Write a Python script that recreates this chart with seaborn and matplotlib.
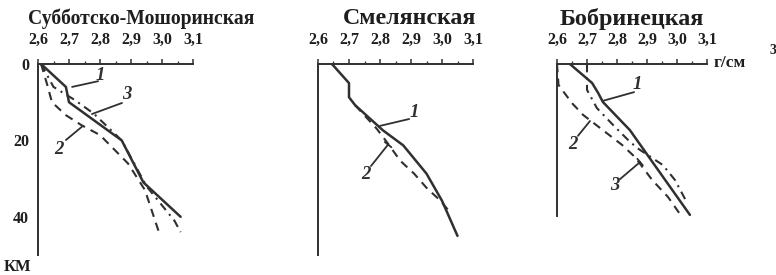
import matplotlib
matplotlib.use("Agg")
import matplotlib.pyplot as plt
import seaborn as sns
import pandas as pd

# ---------------- data ----------------
titles = ["Субботско-Мошоринская", "Смелянская", "Бобринецкая"]
density_ticks = [2.6, 2.7, 2.8, 2.9, 3.0, 3.1]
density_labels = ["2,6", "2,7", "2,8", "2,9", "3,0", "3,1"]
depth_labels_p1 = ["0", "", "20", "", "40", ""]

# panel 1 (Субботско-Мошоринская)
p1_c1_rho = [2.61, 2.69, 2.70, 2.87, 2.94, 3.06]
p1_c1_z = [0, 6, 10, 20, 31, 40]
p1_c2_rho = [2.61, 2.63, 2.645, 2.69, 2.74, 2.80, 2.89, 2.945, 2.99]
p1_c2_z = [0, 5.5, 10, 13.4, 16, 18.6, 26, 33, 44]
p1_c3_rho = [2.61, 2.65, 2.72, 2.78, 2.87, 2.95, 3.0, 3.04, 3.06]
p1_c3_z = [0, 6, 9.5, 13, 20, 32, 37, 41, 44]

# panel 2 (Смелянская)
p2_c1_rho = [2.645, 2.70, 2.70, 2.72, 2.81, 2.875, 2.95, 3.0, 3.05]
p2_c1_z = [0, 5, 8.7, 10.8, 17.4, 21.3, 28.7, 35.8, 45]
p2_c2_rho = [2.72, 2.79, 2.83, 2.865, 2.91, 2.95, 2.995, 3.03]
p2_c2_z = [10.8, 17, 21.3, 25.3, 28.7, 32.4, 35.8, 39.2]

# panel 3 (Бобринецкая)
p3_c1_rho = [2.643, 2.717, 2.737, 2.753, 2.843, 2.92, 3.043]
p3_c1_z = [0, 5, 7.6, 10, 17.4, 26, 39.7]
p3_c2_rho = [2.60, 2.605, 2.65, 2.687, 2.817, 2.86, 2.917, 2.97, 3.017]
p3_c2_z = [0, 5.5, 10.3, 13.4, 21.3, 24.5, 30.5, 35, 40.3]
p3_c3_rho = [2.70, 2.70, 2.733, 2.79, 2.837, 2.867, 2.953, 2.993, 3.03]
p3_c3_z = [0, 6.8, 11.6, 16.3, 20, 22.1, 26.6, 30.5, 36]

# ---------------- style ----------------
sns.set_theme(style="white")
plt.rcParams["font.family"] = ["Liberation Serif", "DejaVu Serif"]
INK = "#303030"
TXT = "#1e1e1e"

W, H = 776, 275
fig = plt.figure(figsize=(W / 100, H / 100), dpi=100)
fig.patch.set_facecolor("white")


def px_axes(l, r, t, b):
    return fig.add_axes([l / W, 1 - b / H, (r - l) / W, (b - t) / H])


def make_df(rho, z, name):
    return pd.DataFrame({"rho": rho, "z": z, "curve": name})


styles = {
    "1": dict(ls="-", lw=1.8),
    "2": dict(ls=(0, (4, 3)), lw=1.5),
    "3": dict(ls=(0, (4, 2.5, 1, 2.5)), lw=1.5),
}

panels = [
    dict(box=(38, 193, 64, 255), zmax=50,
         curves=[("2", p1_c2_rho, p1_c2_z), ("3", p1_c3_rho, p1_c3_z), ("1", p1_c1_rho, p1_c1_z)],
         yticks=[0, 10, 20, 30, 40, 50], ylabels=depth_labels_p1,
         labels=[("1", (2.80, 3.1), (2.794, 4.5), (2.71, 6.0), False),
                 ("3", (2.887, 8.1), (2.871, 10.2), (2.774, 13.1), False),
                 ("2", (2.668, 22.3), (2.69, 19.9), (2.745, 16.2), False)]),
    dict(box=(318, 473, 64, 255), zmax=50,
         curves=[("2", p2_c2_rho, p2_c2_z), ("1", p2_c1_rho, p2_c1_z)],
         yticks=[0, 10, 20, 30, 40, 50], ylabels=[""] * 6,
         labels=[("1", (2.91, 12.6), (2.894, 14.4), (2.80, 16.2), False),
                 ("2", (2.755, 28.8), (2.771, 26.7), (2.826, 21.1), True)]),
    dict(box=(557, 707, 64, 216), zmax=40,
         curves=[("2", p3_c2_rho, p3_c2_z), ("3", p3_c3_rho, p3_c3_z), ("1", p3_c1_rho, p3_c1_z)],
         yticks=[0, 10, 20, 30, 40], ylabels=[""] * 5,
         labels=[("1", (2.867, 5.5), (2.857, 7.4), (2.753, 9.7), False),
                 ("2", (2.653, 21.3), (2.67, 18.9), (2.71, 15.0), False),
                 ("3", (2.793, 32.1), (2.81, 30.3), (2.877, 25.8), True)]),
]

for p in panels:
    ax = px_axes(*p["box"])
    for name, rho, z in p["curves"]:
        df = make_df(rho, z, name)
        sns.lineplot(data=df, x="rho", y="z", ax=ax, color=INK, sort=False,
                     estimator=None, legend=False, **styles[name])
    ax.set_xlim(2.6, 3.1)
    ax.set_ylim(p["zmax"], 0)
    ax.set_xlabel("")
    ax.set_ylabel("")
    for s in ["bottom", "right"]:
        ax.spines[s].set_visible(False)
    for s in ["top", "left"]:
        ax.spines[s].set_color(INK)
        ax.spines[s].set_linewidth(1.4)
    ax.xaxis.tick_top()
    ax.set_xticks(density_ticks)
    ax.set_xticklabels(density_labels)
    ax.set_xticks([2.65, 2.75, 2.85, 2.95, 3.05], minor=True)
    ax.set_yticks(p["yticks"])
    ax.set_yticklabels(p["ylabels"])
    ax.tick_params(axis="x", which="major", direction="out", length=3.5, width=1.1,
                   color=INK, pad=8, labelsize=11.5, labelcolor=TXT)
    ax.tick_params(axis="x", which="minor", direction="out", length=2.5, width=1.0, color=INK)
    ax.tick_params(axis="y", which="major", direction="out", length=3.5, width=1.1,
                   color=INK, pad=3, labelsize=11.5, labelcolor=TXT)
    for lab in ax.get_xticklabels() + ax.get_yticklabels():
        lab.set_fontweight("bold")
    ax.set_facecolor("none")
    for txt, tpos, a, b, tee in p["labels"]:
        style = "-[, widthB=0.25, lengthB=0" if tee else "-"
        ax.annotate("", xy=b, xytext=a,
                    arrowprops=dict(arrowstyle=style, color=INK, lw=1.3,
                                    shrinkA=0, shrinkB=0))
        ax.text(tpos[0], tpos[1], txt, ha="center", va="center", fontsize=13.5,
                style="italic", fontweight="bold", color=INK, clip_on=False)

# titles, fitted to their widths in the reference
title_boxes = [(28, 252), (343, 475), (560, 703)]
fig.canvas.draw()
rend = fig.canvas.get_renderer()
for t, (x0, x1) in zip(titles, title_boxes):
    tx = fig.text(x0 / W, 1 - 19 / H, t, ha="left", va="center", fontsize=13,
                  fontweight="bold", color=TXT)
    w = tx.get_window_extent(rend).width
    tx.set_fontsize(13 * (x1 - x0) / w)

fig.text(4 / W, 1 - 267 / H, "КМ", ha="left", va="center", fontsize=12,
         fontweight="bold", color=TXT)
fig.text(714 / W, 1 - 63 / H, "г/см", ha="left", va="center", fontsize=12.5,
         fontweight="bold", color=TXT)
fig.text(769 / W, 1 - 50 / H, "3", ha="left", va="center", fontsize=10,
         fontweight="bold", color=TXT)

fig.savefig("out.png", dpi=100, facecolor="white")
